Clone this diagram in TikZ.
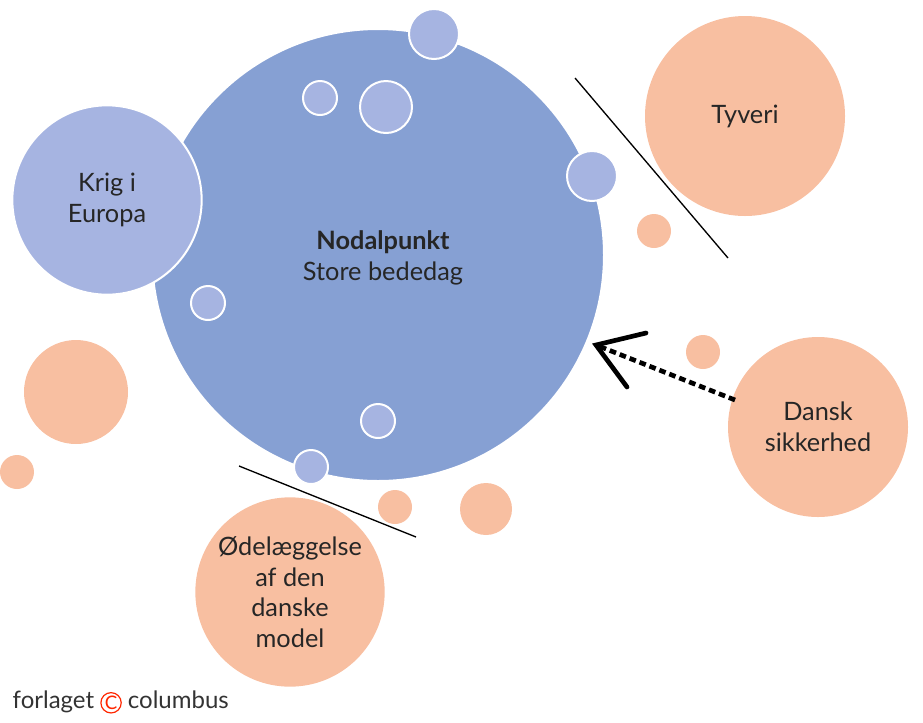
\documentclass[tikz,border=0pt]{standalone}
\usepackage{fontspec}
\setmainfont{Lato}
\begin{document}
\begin{tikzpicture}[x=0.75pt,y=-0.75pt,
 blue/.style={circle,fill=bl,draw=white,line width=1.5pt,inner sep=0pt},
 sal/.style={circle,fill=sa,draw=none,inner sep=0pt},
 lbl/.style={align=center,font=\fontsize{19}{23}\selectfont,text=black!85}]
\definecolor{mb}{HTML}{86A0D3}
\definecolor{bl}{HTML}{A6B4E1}
\definecolor{sa}{HTML}{F8BFA1}
\useasboundingbox (0,0) rectangle (923,722);
\node[circle,fill=mb,draw=white,line width=1.5pt,minimum size=339pt] (main) at (378,255) {};
\node[lbl] (mt) at (383,258) {\textbf{Nodalpunkt}\\Store bededag};
\foreach \n/\x/\y/\r in {b1/434/34/25,b2/320/98/17,b3/386/107/26,b4/592/176/25,b5/208/303/17,b6/378/421/17,b7/311/467/17}
  \node[blue,minimum size=1.5*\r pt] (\n) at (\x,\y) {};
\node[blue,minimum size=142pt,lbl] (krig) at (107,200) {Krig i\\Europa};
\node[sal,minimum size=150pt,lbl] (tyv) at (745,116) {Tyveri};
\node[sal,minimum size=135pt,lbl] (dansk) at (818,427) {Dansk\\sikkerhed};
\node[sal,minimum size=142pt,lbl] (oed) at (290,592) {Ødelæggelse\\af den\\danske\\model};
\foreach \n/\x/\y/\r in {s1/654/231/17,s2/703/352/17,s3/76/392/52,s4/17/472/17,s5/395/507/17,s6/486/509/26}
  \node[sal,minimum size=1.5*\r pt] (\n) at (\x,\y) {};
\coordinate (l1a) at (575,78); \coordinate (l1b) at (728,258);
\coordinate (l2a) at (239,466); \coordinate (l2b) at (416,537);
\draw[line width=1pt] (l1a) -- (l1b);
\draw[line width=1pt] (l2a) -- (l2b);
\coordinate (tip) at (596,345);
\coordinate (ds) at (735,400);
\coordinate (h1) at (646,333); \coordinate (h2) at (627,387);
\draw[line width=3.5pt,dash pattern=on 5pt off 3pt] (ds) -- (tip);
\draw[line width=3.5pt,line cap=round,line join=miter] (h1) -- (tip) -- (h2);
\node[font=\fontsize{18}{20}\selectfont,text=black!80,anchor=west] (logo) at (8,702) {forlaget \tikz[baseline=-4pt]\node[circle,draw=red!70!orange,line width=0.9pt,inner sep=0.5pt,text=red!70!orange,font=\fontsize{14}{14}\selectfont]{C};\ columbus};
\end{tikzpicture}
\end{document}
